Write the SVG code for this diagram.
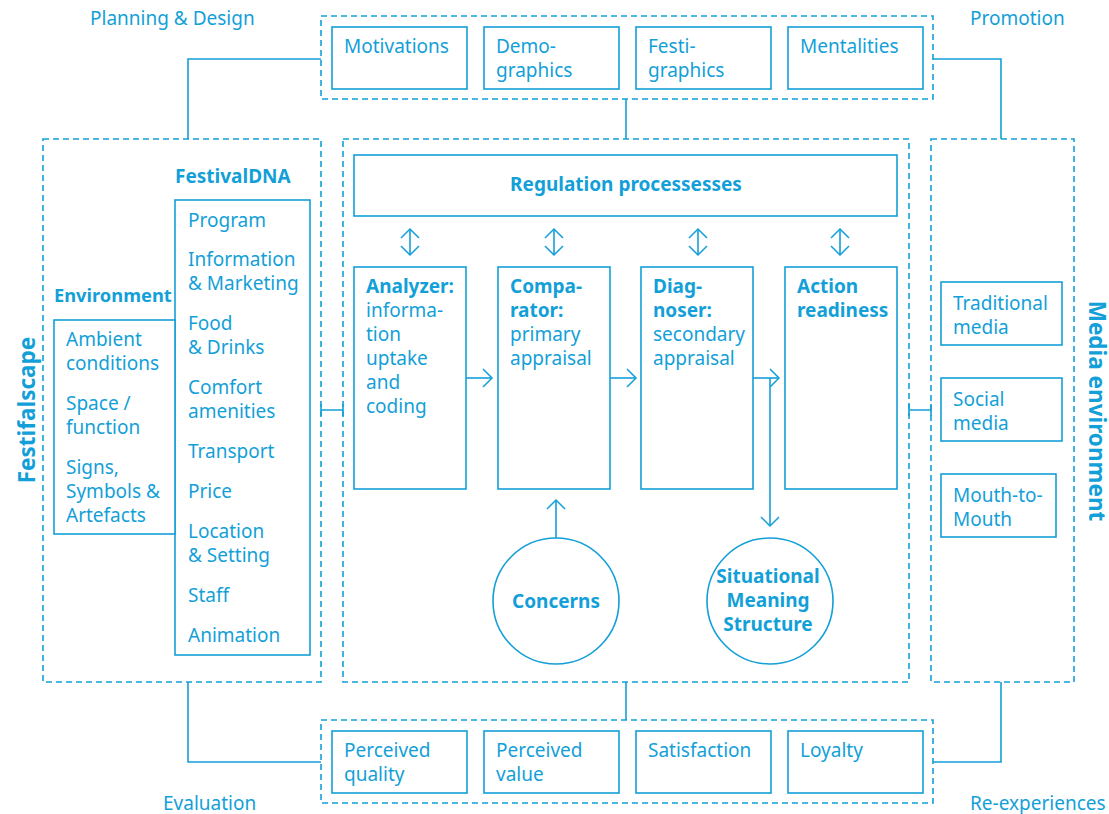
<svg xmlns="http://www.w3.org/2000/svg" width="1109" height="814" viewBox="0 0 1109 814">
<defs>
<style>
.t{font-family:"Noto Sans","Liberation Sans",sans-serif;font-size:19px;fill:#139fd8}
.b{font-family:"Noto Sans","Liberation Sans",sans-serif;font-size:19px;font-weight:bold;fill:#139fd8}
.big{font-family:"Noto Sans","Liberation Sans",sans-serif;font-size:22.5px;font-weight:bold;fill:#139fd8}
.box{fill:#fff;stroke:#139fd8;stroke-width:1.6}
.dash{fill:none;stroke:#139fd8;stroke-width:1.6;stroke-dasharray:6 4}
.ln{fill:none;stroke:#139fd8;stroke-width:1.6}
.c{text-anchor:middle}
</style>
<marker id="ah" viewBox="0 0 20 20" refX="11" refY="10" markerWidth="20" markerHeight="20" markerUnits="userSpaceOnUse" orient="auto-start-reverse">
<path d="M2,1 L11,10 L2,19" fill="none" stroke="#139fd8" stroke-width="1.5"/>
</marker>
</defs>
<rect width="1109" height="814" fill="#fff"/>

<g id="labels">
<text class="t" x="90" y="25">Planning &amp; Design</text>
<text class="t" x="970" y="25">Promotion</text>
<text class="t" x="163" y="810">Evaluation</text>
<text class="t" x="970" y="810">Re-experiences</text>
</g>

<g id="connectors">
<polyline class="ln" points="321,59 188,59 188,139"/>
<polyline class="ln" points="933,59 1001,59 1001,139"/>
<line class="ln" x1="626" y1="99" x2="626" y2="139"/>
<polyline class="ln" points="188,682 188,762 321,762"/>
<polyline class="ln" points="1001,682 1001,762 933,762"/>
<line class="ln" x1="626" y1="682" x2="626" y2="720"/>
<path class="ln" d="M321,410 H343 M321,404 V416 M343,404 V416"/>
<path class="ln" d="M909,410 H931 M909,404 V416 M931,404 V416"/>
<line class="ln" x1="410" y1="229" x2="410" y2="255" marker-start="url(#ah)" marker-end="url(#ah)"/>
<line class="ln" x1="554" y1="229" x2="554" y2="255" marker-start="url(#ah)" marker-end="url(#ah)"/>
<line class="ln" x1="698" y1="229" x2="698" y2="255" marker-start="url(#ah)" marker-end="url(#ah)"/>
<line class="ln" x1="840" y1="229" x2="840" y2="255" marker-start="url(#ah)" marker-end="url(#ah)"/>
<line class="ln" x1="466" y1="378" x2="492" y2="378" marker-end="url(#ah)"/>
<line class="ln" x1="610" y1="378" x2="636" y2="378" marker-end="url(#ah)"/>
<line class="ln" x1="753" y1="378" x2="779" y2="378" marker-end="url(#ah)"/>
<line class="ln" x1="770" y1="378" x2="770" y2="526" marker-end="url(#ah)"/>
<line class="ln" x1="556" y1="538" x2="556" y2="500" marker-end="url(#ah)"/>
</g>

<g id="top-group">
<rect class="dash" x="321" y="16" width="612" height="83"/>
<rect class="box" x="332" y="27" width="135" height="62"/>
<text class="t" x="344" y="53">Motivations</text>
<rect class="box" x="484" y="27" width="135" height="62"/>
<text class="t" x="496" y="53">Demo-</text><text class="t" x="496" y="77">graphics</text>
<rect class="box" x="636" y="27" width="135" height="62"/>
<text class="t" x="648" y="53">Festi-</text><text class="t" x="648" y="77">graphics</text>
<rect class="box" x="788" y="27" width="135" height="62"/>
<text class="t" x="800" y="53">Mentalities</text>
</g>

<g id="bottom-group">
<rect class="dash" x="321" y="720" width="612" height="83"/>
<rect class="box" x="332" y="731" width="135" height="62"/>
<text class="t" x="344" y="757">Perceived</text><text class="t" x="344" y="781">quality</text>
<rect class="box" x="484" y="731" width="135" height="62"/>
<text class="t" x="496" y="757">Perceived</text><text class="t" x="496" y="781">value</text>
<rect class="box" x="636" y="731" width="135" height="62"/>
<text class="t" x="648" y="757">Satisfaction</text>
<rect class="box" x="788" y="731" width="135" height="62"/>
<text class="t" x="800" y="757">Loyalty</text>
</g>

<g id="festifalscape">
<rect class="dash" x="43" y="139" width="278" height="543"/>
<text class="big c" transform="translate(27,410) rotate(-90)" x="0" y="8">Festifalscape</text>
<text class="b" x="175" y="183">FestivalDNA</text>
<rect class="box" x="175" y="200" width="135" height="455"/>
<text class="t" x="188" y="227">Program</text>
<text class="t" x="188" y="266">Information</text><text class="t" x="188" y="290">&amp; Marketing</text>
<text class="t" x="188" y="330">Food</text><text class="t" x="188" y="354">&amp; Drinks</text>
<text class="t" x="188" y="394">Comfort</text><text class="t" x="188" y="418">amenities</text>
<text class="t" x="188" y="458">Transport</text>
<text class="t" x="188" y="498">Price</text>
<text class="t" x="188" y="538">Location</text><text class="t" x="188" y="562">&amp; Setting</text>
<text class="t" x="188" y="602">Staff</text>
<text class="t" x="188" y="642">Animation</text>
<text class="b" x="54" y="302" style="font-size:18.3px">Environment</text>
<rect class="box" x="54" y="320" width="121" height="214"/>
<text class="t" x="66" y="346">Ambient</text><text class="t" x="66" y="370">conditions</text>
<text class="t" x="66" y="410">Space /</text><text class="t" x="66" y="434">function</text>
<text class="t" x="66" y="474">Signs,</text><text class="t" x="66" y="498">Symbols &amp;</text><text class="t" x="66" y="522">Artefacts</text>
</g>

<g id="appraisal">
<rect class="dash" x="343" y="139" width="566" height="543"/>
<rect class="box" x="354" y="155" width="543" height="61"/>
<text class="b c" x="626" y="191">Regulation processesses</text>
<rect class="box" x="354" y="267" width="112" height="222"/>
<text class="b" x="366" y="293">Analyzer:</text>
<text class="t" x="366" y="317">informa-</text><text class="t" x="366" y="341">tion</text><text class="t" x="366" y="365">uptake</text><text class="t" x="366" y="389">and</text><text class="t" x="366" y="413">coding</text>
<rect class="box" x="498" y="267" width="112" height="222"/>
<text class="b" x="510" y="293">Compa-</text><text class="b" x="510" y="317">rator:</text>
<text class="t" x="510" y="341">primary</text><text class="t" x="510" y="365">appraisal</text>
<rect class="box" x="641" y="267" width="112" height="222"/>
<text class="b" x="653" y="293">Diag-</text><text class="b" x="653" y="317">noser:</text>
<text class="t" x="653" y="341">secondary</text><text class="t" x="653" y="365">appraisal</text>
<rect class="box" x="785" y="267" width="112" height="222"/>
<text class="b" x="797" y="293">Action</text><text class="b" x="797" y="317">readiness</text>
</g>

<g id="concerns">
<circle class="box" cx="556" cy="601" r="63"/>
<text class="b c" x="556" y="608">Concerns</text>
</g>
<g id="situational">
<circle class="box" cx="770" cy="601" r="63"/>
<text class="b c" x="768" y="583">Situational</text><text class="b c" x="768" y="607">Meaning</text><text class="b c" x="768" y="631">Structure</text>
</g>

<g id="media">
<rect class="dash" x="931" y="139" width="143" height="543"/>
<text class="big c" transform="translate(1096,411) rotate(90)" x="0" y="7">Media environment</text>
<rect class="box" x="941" y="282" width="121" height="63"/>
<text class="t" x="953" y="310">Traditional</text><text class="t" x="953" y="334">media</text>
<rect class="box" x="941" y="378" width="121" height="63"/>
<text class="t" x="953" y="406">Social</text><text class="t" x="953" y="430">media</text>
<rect class="box" x="941" y="474" width="115" height="63"/>
<text class="t" x="953" y="502">Mouth-to-</text><text class="t" x="953" y="526">Mouth</text>
</g>
</svg>
